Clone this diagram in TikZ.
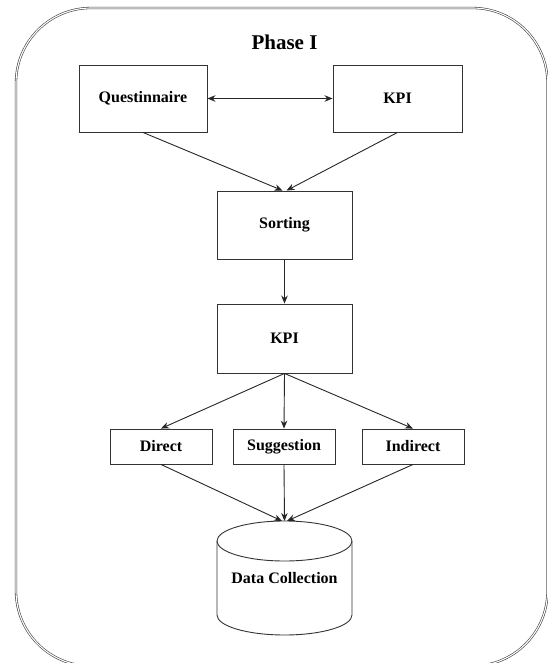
\documentclass[tikz,border=0pt]{standalone}
\usepackage{fontspec}
\setmainfont{Liberation Serif}
\usetikzlibrary{arrows.meta}
\begin{document}
\begin{tikzpicture}[x=1pt,y=-1pt,
  box/.style={draw=black!80, line width=0.9pt, inner sep=0pt, font=\bfseries\fontsize{16}{19}\selectfont},
  conn/.style={draw=black!85, line width=0.9pt, -{Stealth[length=8pt,width=6.5pt]}},
  frame/.style={draw=black!75, line width=0.6pt, double=white, double distance=1.1pt}]
\useasboundingbox (0,0) rectangle (548,663);
\begin{scope}
\clip (0,0) rectangle (548,663);
\draw[frame, rounded corners=75pt] (16,8) rectangle (547.5,666);
\end{scope}
\node[font=\bfseries\fontsize{21}{24}\selectfont] (title) at (284.5,42) {Phase I};
\node[box, minimum width=128pt, minimum height=67pt] (q) at (143,98.5) {Questinnaire};
\node[box, minimum width=129pt, minimum height=67pt] (k) at (397.5,98.5) {KPI};
\node[box, minimum width=135pt, minimum height=68pt] (s) at (284.5,225) {Sorting};
\node[box, minimum width=135pt, minimum height=69pt] (k2) at (284.5,338.5) {KPI};
\node[box, minimum width=102pt, minimum height=35pt] (d) at (161,446.5) {Direct};
\node[box, minimum width=102pt, minimum height=35pt] (sg) at (284,446.5) {Suggestion};
\node[box, minimum width=102pt, minimum height=35pt] (ind) at (413,446.5) {Indirect};
% cylinder
\draw[draw=black!80, line width=0.9pt, fill=white]
  (217,541) -- (217,615) arc[start angle=180, end angle=360, x radius=67.5, y radius=-20] -- (352,541);
\draw[draw=black!80, line width=0.9pt] (284.5,541) ellipse[x radius=67.5, y radius=20];
\node[font=\bfseries\fontsize{16}{19}\selectfont] (dc) at (284.5,578) {Data Collection};
\coordinate (dctop) at (284.5,521);
% connectors
\draw[conn, {Stealth[length=8pt,width=6.5pt]}-{Stealth[length=8pt,width=6.5pt]}] (q.east) -- (k.west);
\draw[conn] (q.south) -- ([xshift=-2pt]s.north);
\draw[conn] (k.south) -- ([xshift=2pt]s.north);
\draw[conn] (s.south) -- (k2.north);
\draw[conn] (k2.south) -- (d.north);
\draw[conn] (k2.south) -- (sg.north);
\draw[conn] (k2.south) -- (ind.north);
\draw[conn] (d.south) -- ([xshift=-2.5pt]dctop);
\draw[conn] (sg.south) -- (dctop);
\draw[conn] (ind.south) -- ([xshift=2.5pt]dctop);
\end{tikzpicture}
\end{document}
